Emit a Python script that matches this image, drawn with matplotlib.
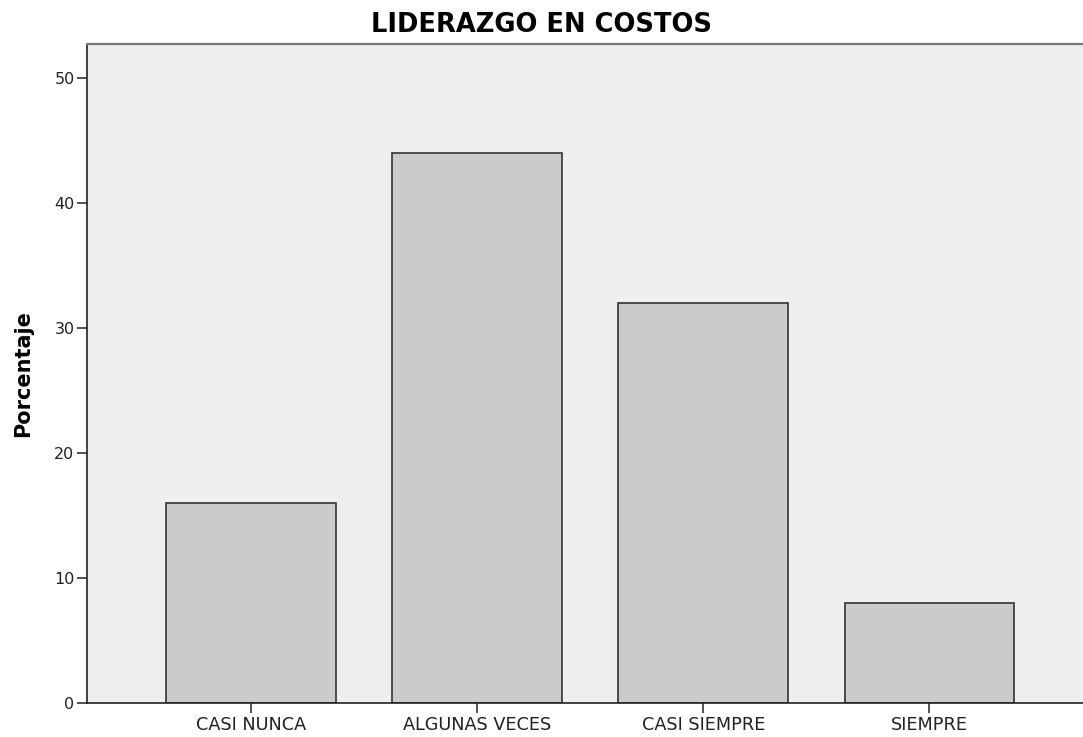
import matplotlib
matplotlib.use("Agg")
import matplotlib.pyplot as plt
import numpy as np

# Data
categories = ["CASI NUNCA", "ALGUNAS VECES", "CASI SIEMPRE", "SIEMPRE"]
porcentaje = [16, 44, 32, 8]
y_ticks = [0, 10, 20, 30, 40, 50]

TITLE = "LIDERAZGO EN COSTOS"
YLABEL = "Porcentaje"

plt.rcParams['font.family'] = ['DejaVu Sans']

fig = plt.figure(figsize=(10.83, 7.37), dpi=100)
ax = fig.add_axes([87 / 1083, 34 / 737, 1 - 87 / 1083, (703 - 44) / 737])
ax.set_facecolor("#efefef")

x = np.arange(len(categories))
ax.bar(x, porcentaje, width=0.75, color="#cbcbcb", edgecolor="#333333",
       linewidth=1.2, zorder=2)

ax.set_xlim(-0.726, 3.68)
ax.set_ylim(0, 52.7)
ax.set_xticks(x)
ax.set_xticklabels(categories, fontsize=12.7, color="#222222")
ax.set_yticks(y_ticks)
ax.set_yticklabels([str(v) for v in y_ticks], fontsize=11.5, color="#222222")
ax.tick_params(axis="both", direction="out", length=7, width=1.1,
               color="#222222", pad=2)

ax.spines["right"].set_visible(False)
ax.spines["top"].set_color("#777777")
ax.spines["top"].set_linewidth(1.6)
for s in ("left", "bottom"):
    ax.spines[s].set_color("#222222")
    ax.spines[s].set_linewidth(1.2)

ax.set_ylabel(YLABEL, fontsize=15, fontweight="bold", labelpad=15)
fig.text(0.5, 1 - 25 / 737, TITLE, ha="center", va="center",
         fontsize=18.5, fontweight="bold")

fig.savefig("out.png", dpi=100)
